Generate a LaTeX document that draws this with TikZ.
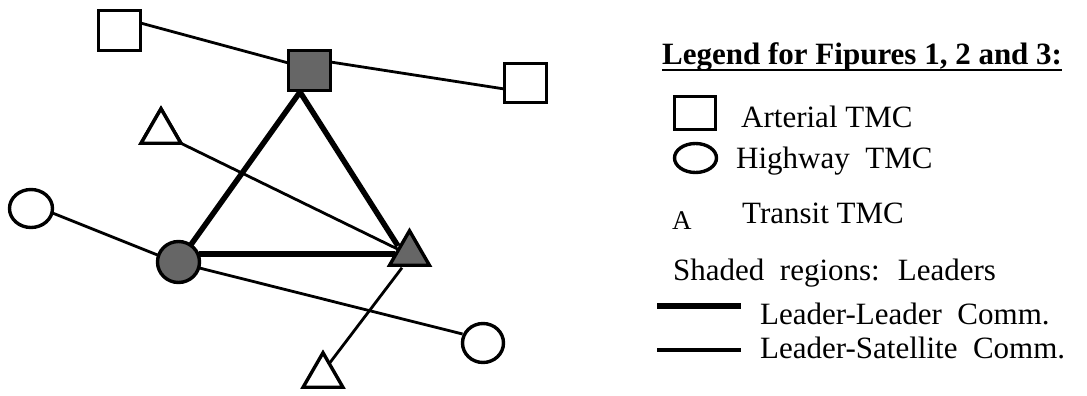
\documentclass[tikz,border=0pt]{standalone}
\usepackage{fontspec}
\setmainfont{Liberation Serif}
\usetikzlibrary{shapes.geometric,calc}
\tikzset{
  tmcsq/.style={draw, rectangle, line width=3.4pt, inner sep=0pt, outer sep=0pt, fill=white},
  tmcci/.style={draw, ellipse, line width=3.4pt, inner sep=0pt, outer sep=0pt, fill=white},
  tmctri/.style={draw, regular polygon, regular polygon sides=3, minimum size=46pt, inner sep=0pt, outer sep=0pt, line width=3.4pt, fill=white},
  leader/.style={fill=black!60},
  satline/.style={line width=2.8pt},
  leadline/.style={line width=5.5pt},
  legtext/.style={anchor=base west, inner sep=0pt, font=\fontsize{31}{31}\selectfont},
}
\begin{document}
\begin{tikzpicture}[x=1pt,y=-1pt]
\useasboundingbox (0,0) rectangle (1087,396);
% node positions (shapes)
\coordinate (psqA) at (119.5,30.5);
\coordinate (psqL) at (309.5,70.5);
\coordinate (psqB) at (525.5,83);
\coordinate (ptriA) at (161,131.75);
\coordinate (ptriL) at (409.5,253.75);
\coordinate (ptriB) at (323,375.75);
\coordinate (pcirA) at (31,208.5);
\coordinate (pcirL) at (178.5,262);
\coordinate (pcirB) at (483,343);
% placeholders for connector ends
\node[inner sep=0pt, outer sep=0pt] (sqA) at (psqA) {};
\node[inner sep=0pt, outer sep=0pt] (sqL) at (psqL) {};
\node[inner sep=0pt, outer sep=0pt] (sqB) at (psqB) {};
\node[inner sep=0pt, outer sep=0pt] (cirA) at (pcirA) {};
\node[inner sep=0pt, outer sep=0pt] (cirL) at (pcirL) {};
\node[inner sep=0pt, outer sep=0pt] (cirB) at (pcirB) {};
\node[inner sep=0pt, outer sep=0pt] (triL) at (ptriL) {};
\node[inner sep=0pt, outer sep=0pt] (triB) at (ptriB) {};
\node[tmctri] (triA) at (ptriA) {};
% leader-satellite links
\draw[satline] ($(sqA)+(21,-7.5)$) -- ($(sqL)+(-21,-7.5)$);
\draw[satline] ($(sqL)+(21,-8.5)$) -- ($(sqB)+(-21,6)$);
\draw[satline] (triA.corner 3) -- ($(triL)+(-11.5,-4.5)$);
\draw[satline] ($(cirA)+(21.5,4.5)$) -- ($(cirL)+(-21,-7)$);
\draw[satline] ($(cirL)+(21,6)$) -- ($(cirB)+(-20.5,-9)$);
\draw[satline] ($(triL)+(-7.5,14)$) -- ($(triB)+(6.5,-12.5)$);
% shapes
\node[tmcsq, minimum width=42pt, minimum height=40pt] (sqAs) at (psqA) {};
\node[tmcsq, leader, minimum width=42pt, minimum height=40pt] (sqLs) at (psqL) {};
\node[tmcsq, minimum width=42pt, minimum height=39pt] (sqBs) at (psqB) {};
\node[tmcci, minimum width=43pt, minimum height=38pt] (cirAs) at (pcirA) {};
\node[tmcci, leader, minimum width=42pt, minimum height=41pt] (cirLs) at (pcirL) {};
\node[tmcci, minimum width=41pt, minimum height=39pt] (cirBs) at (pcirB) {};
\node[tmctri] (triAs) at (ptriA) {};
\node[tmctri, leader] (triLs) at (ptriL) {};
\node[tmctri] (triBs) at (ptriB) {};
% leader-leader links
\draw[leadline] ($(sqL)+(-9.5,21.5)$) -- ($(cirL)+(11.5,-16)$);
\draw[leadline] ($(sqL)+(-9.5,21.5)$) -- ($(triL)+(-11.5,-7.75)$);
\draw[leadline] ($(cirL)+(20,-8)$) -- ($(triL)+(-14.5,0.25)$);
% legend
\node[anchor=base west, inner sep=0pt, font=\fontsize{31}{31}\selectfont\bfseries] (title) at (662,65) {Legend for Fipures 1, 2 and 3:};
\draw[line width=2.4pt] ($(title.base west)+(0,5)$) -- ($(title.base east)+(0,5)$);
\node[tmcsq, minimum width=41pt, minimum height=33pt] (lsq) at (695,113) {};
\node[legtext] (tart) at (741,127) {Arterial TMC};
\node[tmcci, minimum width=42pt, minimum height=29pt] (lci) at (695.5,158) {};
\node[legtext] (thwy) at (736,168) {Highway~~TMC};
\node[anchor=base west, inner sep=0pt, font=\fontsize{27}{27}\selectfont] (ltri) at (672,229) {A};
\node[legtext] (ttr) at (742,223) {Transit TMC};
\node[legtext] (tsh) at (673,280) {Shaded~ regions:~ Leaders};
\coordinate (ll1) at (657,306);
\coordinate (ll2) at (741,306);
\draw[leadline] (ll1) -- (ll2);
\node[legtext] (tll) at (760,324) {Leader-Leader~~Comm.};
\coordinate (ls1) at (657,350);
\coordinate (ls2) at (741,350);
\draw[line width=3.8pt] (ls1) -- (ls2);
\node[legtext] (tls) at (760,358) {Leader-Satellite~~Comm.};
\end{tikzpicture}
\end{document}
